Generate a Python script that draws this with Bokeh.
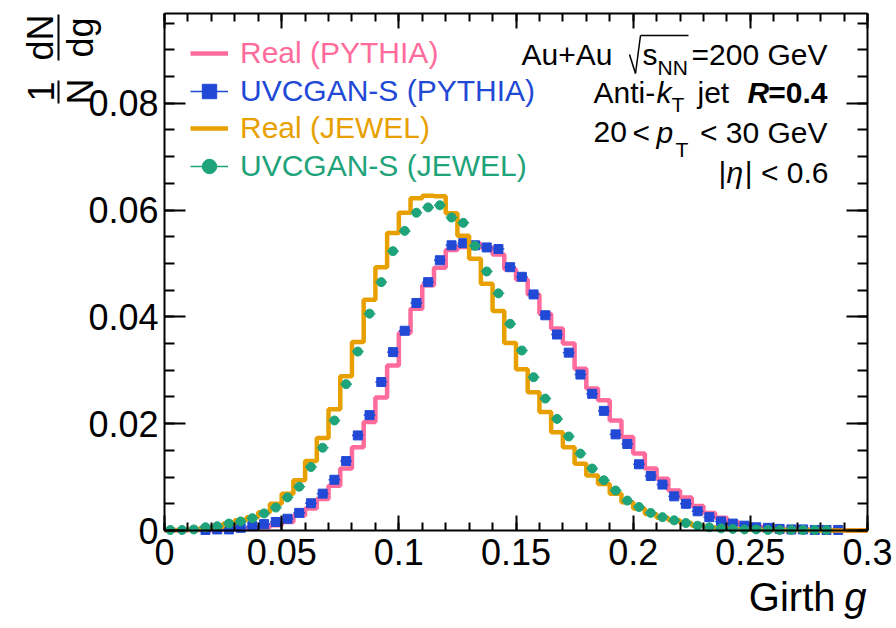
import math
import numpy as np
from bokeh.plotting import figure
from bokeh.models import (Range1d, LinearAxis, Label, Legend, LegendItem, ColumnDataSource,
                          FixedTicker, CustomJSTickFormatter, Arrow)
from bokeh.embed import file_html
from bokeh.resources import INLINE

# ---------------------------------------------------------------- data
BIN_WIDTH = 0.005
N_BINS = 60
bin_low = [round(i * BIN_WIDTH, 3) for i in range(N_BINS)]

# normalised girth distributions, 1/N dN/dg per bin
real_pythia = [0.0000, 0.0000, 0.0001, 0.0001, 0.0001, 0.0002, 0.0003, 0.0004, 0.0006, 0.0010,
               0.0016, 0.0028, 0.0041, 0.0059, 0.0084, 0.0116, 0.0156, 0.0203, 0.0249, 0.0309,
               0.0370, 0.0415, 0.0459, 0.0492, 0.0525, 0.0531, 0.0537, 0.0530, 0.0517, 0.0489,
               0.0470, 0.0442, 0.0406, 0.0378, 0.0350, 0.0303, 0.0266, 0.0244, 0.0206, 0.0175,
               0.0144, 0.0116, 0.0097, 0.0075, 0.0062, 0.0046, 0.0033, 0.0024, 0.0016, 0.0011,
               0.0007, 0.0005, 0.0003, 0.0002, 0.0002, 0.0001, 0.0001, 0.0001, 0.0000, 0.0000]
gan_pythia = [0.0000, 0.0000, 0.0000, 0.0001, 0.0002, 0.0002, 0.0005, 0.0008, 0.0012, 0.0016,
              0.0022, 0.0033, 0.0051, 0.0069, 0.0095, 0.0130, 0.0178, 0.0216, 0.0278, 0.0334,
              0.0374, 0.0426, 0.0465, 0.0506, 0.0534, 0.0538, 0.0534, 0.0530, 0.0527, 0.0493,
              0.0475, 0.0442, 0.0403, 0.0367, 0.0333, 0.0292, 0.0256, 0.0224, 0.0180, 0.0162,
              0.0124, 0.0102, 0.0086, 0.0064, 0.0050, 0.0036, 0.0025, 0.0017, 0.0013, 0.0009,
              0.0006, 0.0005, 0.0003, 0.0002, 0.0002, 0.0001, 0.0001, 0.0001, 0.0000, 0.0000]
real_jewel = [0.0001, 0.0001, 0.0002, 0.0004, 0.0007, 0.0013, 0.0019, 0.0025, 0.0034, 0.0050,
              0.0069, 0.0094, 0.0130, 0.0173, 0.0227, 0.0289, 0.0353, 0.0432, 0.0493, 0.0557,
              0.0595, 0.0622, 0.0627, 0.0626, 0.0594, 0.0552, 0.0509, 0.0462, 0.0411, 0.0351,
              0.0302, 0.0259, 0.0222, 0.0184, 0.0156, 0.0125, 0.0103, 0.0087, 0.0069, 0.0053,
              0.0041, 0.0031, 0.0024, 0.0019, 0.0014, 0.0009, 0.0006, 0.0004, 0.0003, 0.0002,
              0.0002, 0.0001, 0.0001, 0.0001, 0.0001, 0.0000, 0.0000, 0.0000, 0.0000, 0.0000]
gan_jewel = [0.0001, 0.0001, 0.0002, 0.0006, 0.0008, 0.0013, 0.0017, 0.0023, 0.0032, 0.0043,
             0.0062, 0.0082, 0.0119, 0.0155, 0.0206, 0.0274, 0.0335, 0.0406, 0.0465, 0.0523,
             0.0561, 0.0595, 0.0605, 0.0609, 0.0586, 0.0576, 0.0533, 0.0485, 0.0444, 0.0387,
             0.0337, 0.0287, 0.0247, 0.0209, 0.0176, 0.0144, 0.0116, 0.0094, 0.0075, 0.0056,
             0.0044, 0.0033, 0.0025, 0.0019, 0.0014, 0.0009, 0.0006, 0.0004, 0.0003, 0.0002,
             0.0002, 0.0001, 0.0001, 0.0001, 0.0001, 0.0001, 0.0001, 0.0000, 0.0000, 0.0000]

X_MIN, X_MAX = 0.0, 0.3
Y_MIN, Y_MAX = 0.0, 0.0968
x_major = [0, 0.05, 0.1, 0.15, 0.2, 0.25, 0.3]
x_minor = [round(i * 0.01, 2) for i in range(31)]
y_major = [0, 0.02, 0.04, 0.06, 0.08]
y_minor = [round(i * 0.005, 3) for i in range(20)]

legend_labels = ["Real (PYTHIA)", "UVCGAN-S (PYTHIA)", "Real (JEWEL)", "UVCGAN-S (JEWEL)"]

PINK, BLUE, ORANGE, GREEN = "#ff6b9b", "#2149d6", "#e8a000", "#1ea37a"
FONT = "Liberation Sans"

# ---------------------------------------------------------------- page geometry
# The plotting area fills the whole page; the histogram box sits inside it
# between these pixel edges, and the axes are pinned onto that box.
W, H = 896, 628
BOX_L, BOX_R, BOX_T, BOX_B = 164, 867, 13, 530
sx = (X_MAX - X_MIN) / (BOX_R - BOX_L)
sy = (Y_MAX - Y_MIN) / (BOX_B - BOX_T)
x_range = Range1d(X_MIN - BOX_L * sx, X_MAX + (W - BOX_R) * sx)
y_range = Range1d(Y_MIN - (H - BOX_B) * sy, Y_MAX + BOX_T * sy)

p = figure(width=W, height=H, x_range=x_range, y_range=y_range,
           output_backend="svg", toolbar_location=None,
           x_axis_type=None, y_axis_type=None,
           min_border=0, min_border_left=0, min_border_right=0,
           min_border_top=0, min_border_bottom=0)
p.outline_line_color = None
p.background_fill_color = "white"
p.border_fill_color = "white"


def box_axis(ticks, minor, major_len, minor_len, labelled, where, bounds):
    ax = LinearAxis(ticker=FixedTicker(ticks=ticks, minor_ticks=minor),
                    fixed_location=where, bounds=bounds)
    if labelled:
        ax.formatter = CustomJSTickFormatter(code="return String(Math.round(tick * 1000) / 1000);")
    else:
        ax.formatter = CustomJSTickFormatter(code="return '';")
    ax.major_tick_in = major_len
    ax.major_tick_out = 0
    ax.minor_tick_in = minor_len
    ax.minor_tick_out = 0
    for attr in ("axis_line", "major_tick_line", "minor_tick_line"):
        setattr(ax, attr + "_width", 2)
        setattr(ax, attr + "_color", "black")
    ax.major_label_text_font = FONT
    ax.major_label_text_font_size = "36px"
    ax.major_label_text_color = "black"
    return ax


xb = box_axis(x_major, x_minor, 15, 8, True, Y_MIN, (X_MIN, X_MAX))
xb.major_label_standoff = 8
p.add_layout(xb, "below")
p.add_layout(box_axis(x_major, x_minor, 15, 8, False, Y_MAX, (X_MIN, X_MAX)), "above")
yl = box_axis(y_major, y_minor, 21, 10, True, X_MIN, (Y_MIN, Y_MAX))
yl.major_label_standoff = 6
p.add_layout(yl, "left")
p.add_layout(box_axis(y_major, y_minor, 21, 10, False, X_MAX, (Y_MIN, Y_MAX)), "right")

# ---------------------------------------------------------------- histograms
edges = bin_low + [round(N_BINS * BIN_WIDTH, 3)]
centers = np.array(bin_low) + BIN_WIDTH / 2


def step_source(vals):
    return ColumnDataSource(dict(x=edges, y=list(vals) + [vals[-1]]))


def point_source(vals):
    v = np.array(vals)
    keep = v > 0
    c = centers[keep]
    return ColumnDataSource(dict(x=c, y=v[keep], x0=c - BIN_WIDTH / 2, x1=c + BIN_WIDTH / 2))


r_real_py = p.step("x", "y", source=step_source(real_pythia), mode="after",
                   line_color=PINK, line_width=4.5)
src = point_source(gan_pythia)
r_err_py = p.segment("x0", "y", "x1", "y", source=src, line_color=BLUE, line_width=1.5)
r_gan_py = p.scatter("x", "y", source=src, marker="square", size=9,
                     fill_color=BLUE, line_color=BLUE, line_width=1)

r_real_jw = p.step("x", "y", source=step_source(real_jewel), mode="after",
                   line_color=ORANGE, line_width=4.5)
src = point_source(gan_jewel)
r_err_jw = p.segment("x0", "y", "x1", "y", source=src, line_color=GREEN, line_width=1.5)
r_gan_jw = p.scatter("x", "y", source=src, marker="circle", size=9,
                     fill_color=GREEN, line_color=GREEN, line_width=1)

# ---------------------------------------------------------------- legend (one block per entry so each text takes its colour)
entries = [([r_real_py], PINK, 53.3), ([r_err_py, r_gan_py], BLUE, 91.0),
           ([r_real_jw], ORANGE, 128.3), ([r_err_jw, r_gan_jw], GREEN, 165.7)]
ITEM_H = 36
for label, (rends, col, yc) in zip(legend_labels, entries):
    lg = Legend(items=[LegendItem(label=label, renderers=rends)],
                location=(190, H - (yc + ITEM_H / 2)),
                padding=0, margin=0, spacing=0, glyph_width=38, glyph_height=ITEM_H,
                label_height=ITEM_H, label_standoff=12, border_line_color=None,
                background_fill_alpha=0, label_text_font=FONT, label_text_font_size="30px",
                label_text_color=col)
    p.add_layout(lg)


# ---------------------------------------------------------------- text helpers (page pixel positions)
BASELINE_LIFT = 0.38   # label box sits this many em below the requested baseline


def put(text, X, Y, size=30, style="normal", align="left", color="black",
        angle=0.0, baseline="alphabetic"):
    if baseline == "alphabetic":
        Y = Y - BASELINE_LIFT * size
    p.add_layout(Label(x=X, y=H - Y, x_units="screen", y_units="screen", text=text,
                       text_font=FONT, text_font_size=f"{size}px", text_font_style=style,
                       text_align=align, text_baseline=baseline, text_color=color, angle=angle))


def stroke(X0, Y0, X1, Y1, w=1.5):
    p.add_layout(Arrow(start=None, end=None, x_start=X0, y_start=H - Y0,
                       x_end=X1, y_end=H - Y1, start_units="screen", end_units="screen",
                       line_width=w, line_color="black"))


# collision system, energy
put("Au+Au", 521, 65)
stroke(629, 54, 635, 73)
stroke(635, 73, 640, 35)
stroke(640, 35, 688, 35)
put("s", 642, 65)
put("NN", 657, 75, size=21)
put("=200 GeV", 827, 65, align="right")
# jet definition
put("Anti-", 593, 103)
put("k", 656, 103, style="italic")
put("T", 671, 112, size=21)
put("jet", 697, 103)
put("R", 747, 103, style="bold italic")
put("=0.4", 827, 103, style="bold", align="right")
# kinematic selection
put("20", 593, 143)
put("<", 632, 143)
put("p", 656, 143, style="italic")
put("T", 675, 157, size=21)
put("< 30 GeV", 827, 143, align="right")
put("|", 718, 183)
put("η", 726, 183, style="italic")
put("| < 0.6", 828, 183, align="right")

# axis titles
put("Girth", 835, 612, size=40, align="right")
put("g", 866, 612, size=40, style="italic", align="right")
put("dN", 40, 37, size=36, angle=math.pi / 2, align="center", baseline="middle")
put("dg", 80, 37, size=36, angle=math.pi / 2, align="center", baseline="middle")
stroke(58, 14, 58, 60, w=2)
put("1", 40, 91, size=36, angle=math.pi / 2, align="center", baseline="middle")
put("N", 80, 91, size=36, angle=math.pi / 2, align="center", baseline="middle")
stroke(58, 80, 58, 103, w=2)

with open("out.html", "w") as f:
    f.write(file_html(p, INLINE))
